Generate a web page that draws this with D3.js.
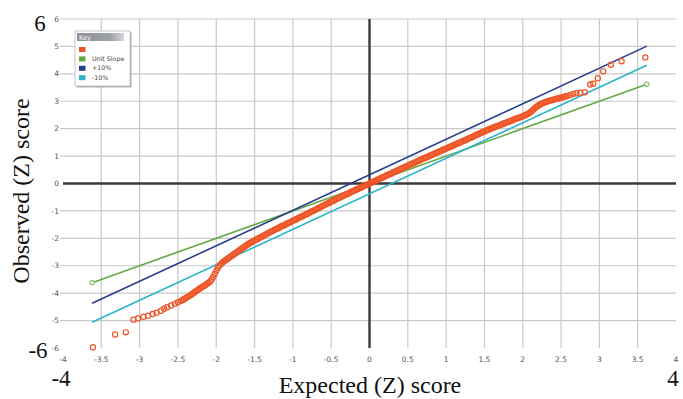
<!DOCTYPE html>
<html>
<head>
<meta charset="utf-8">
<script src="https://cdn.jsdelivr.net/npm/d3@7"></script>
<style>
  html, body { margin: 0; padding: 0; background: #fff; }
  svg { display: block; }
</style>
</head>
<body>
<svg id="chart" width="683" height="399"></svg>
<script>
// Normal Q-Q plot: observed z-scores against expected z-scores

// Sparse lower tail
const lowTailExpected = [-3.61, -3.32, -3.18, -3.08, -3.02, -2.95, -2.89, -2.83, -2.78, -2.72, -2.68, -2.64, -2.59, -2.54, -2.50];
const lowTailObserved = [-5.97, -5.51, -5.43, -4.97, -4.92, -4.86, -4.82, -4.76, -4.71, -4.64, -4.57, -4.51, -4.45, -4.39, -4.33];

// Dense central body
const bodyExpected = [
  -2.46, -2.44, -2.42, -2.40, -2.38, -2.36, -2.34, -2.32, -2.30, -2.28,
  -2.26, -2.24, -2.22, -2.20, -2.18, -2.16, -2.14, -2.12, -2.10, -2.08,
  -2.06, -2.04, -2.02, -2.00, -1.98, -1.96, -1.94, -1.92, -1.90, -1.88,
  -1.86, -1.84, -1.82, -1.80, -1.78, -1.76, -1.74, -1.72, -1.70, -1.68,
  -1.66, -1.64, -1.62, -1.60, -1.58, -1.56, -1.54, -1.52, -1.50, -1.48,
  -1.46, -1.44, -1.42, -1.40, -1.38, -1.36, -1.34, -1.32, -1.30, -1.28,
  -1.26, -1.24, -1.22, -1.20, -1.18, -1.16, -1.14, -1.12, -1.10, -1.08,
  -1.06, -1.04, -1.02, -1.00, -0.98, -0.96, -0.94, -0.92, -0.90, -0.88,
  -0.86, -0.84, -0.82, -0.80, -0.78, -0.76, -0.74, -0.72, -0.70, -0.68,
  -0.66, -0.64, -0.62, -0.60, -0.58, -0.56, -0.54, -0.52, -0.50, -0.48,
  -0.46, -0.44, -0.42, -0.40, -0.38, -0.36, -0.34, -0.32, -0.30, -0.28,
  -0.26, -0.24, -0.22, -0.20, -0.18, -0.16, -0.14, -0.12, -0.10, -0.08,
  -0.06, -0.04, -0.02, 0.00, 0.02, 0.04, 0.06, 0.08, 0.10, 0.12,
  0.14, 0.16, 0.18, 0.20, 0.22, 0.24, 0.26, 0.28, 0.30, 0.32,
  0.34, 0.36, 0.38, 0.40, 0.42, 0.44, 0.46, 0.48, 0.50, 0.52,
  0.54, 0.56, 0.58, 0.60, 0.62, 0.64, 0.66, 0.68, 0.70, 0.72,
  0.74, 0.76, 0.78, 0.80, 0.82, 0.84, 0.86, 0.88, 0.90, 0.92,
  0.94, 0.96, 0.98, 1.00, 1.02, 1.04, 1.06, 1.08, 1.10, 1.12,
  1.14, 1.16, 1.18, 1.20, 1.22, 1.24, 1.26, 1.28, 1.30, 1.32,
  1.34, 1.36, 1.38, 1.40, 1.42, 1.44, 1.46, 1.48, 1.50, 1.52,
  1.54, 1.56, 1.58, 1.60, 1.62, 1.64, 1.66, 1.68, 1.70, 1.72,
  1.74, 1.76, 1.78, 1.80, 1.82, 1.84, 1.86, 1.88, 1.90, 1.92,
  1.94, 1.96, 1.98, 2.00, 2.02, 2.04, 2.06, 2.08, 2.10, 2.12,
  2.14, 2.16, 2.18, 2.20, 2.22, 2.24, 2.26, 2.28, 2.30, 2.32,
  2.34, 2.36, 2.38, 2.40, 2.42, 2.44, 2.46, 2.48, 2.50, 2.52,
  2.54, 2.56, 2.58
];
const bodyObserved = [
  -4.28, -4.25, -4.22, -4.18, -4.15, -4.11, -4.08, -4.04, -4.00, -3.96,
  -3.92, -3.88, -3.84, -3.80, -3.77, -3.74, -3.70, -3.66, -3.62, -3.57,
  -3.50, -3.41, -3.30, -3.18, -3.08, -3.00, -2.94, -2.89, -2.84, -2.80,
  -2.76, -2.72, -2.68, -2.64, -2.60, -2.56, -2.52, -2.48, -2.44, -2.40,
  -2.36, -2.32, -2.28, -2.24, -2.21, -2.17, -2.14, -2.11, -2.08, -2.05,
  -2.02, -1.99, -1.96, -1.93, -1.90, -1.87, -1.84, -1.81, -1.78, -1.75,
  -1.72, -1.69, -1.66, -1.64, -1.61, -1.58, -1.55, -1.53, -1.50, -1.47,
  -1.44, -1.42, -1.39, -1.36, -1.33, -1.31, -1.28, -1.25, -1.22, -1.20,
  -1.17, -1.14, -1.11, -1.09, -1.06, -1.03, -1.00, -0.98, -0.95, -0.92,
  -0.89, -0.86, -0.83, -0.80, -0.77, -0.75, -0.72, -0.69, -0.66, -0.64,
  -0.61, -0.58, -0.55, -0.53, -0.50, -0.47, -0.44, -0.42, -0.39, -0.37,
  -0.34, -0.31, -0.28, -0.26, -0.23, -0.21, -0.18, -0.16, -0.13, -0.10,
  -0.08, -0.05, -0.03, 0.00, 0.03, 0.05, 0.08, 0.10, 0.13, 0.16,
  0.18, 0.21, 0.23, 0.26, 0.29, 0.31, 0.34, 0.36, 0.39, 0.42,
  0.44, 0.47, 0.49, 0.52, 0.55, 0.57, 0.60, 0.62, 0.65, 0.68,
  0.70, 0.73, 0.75, 0.78, 0.80, 0.83, 0.85, 0.88, 0.90, 0.93,
  0.95, 0.98, 1.00, 1.03, 1.05, 1.08, 1.10, 1.13, 1.15, 1.18,
  1.20, 1.23, 1.25, 1.27, 1.30, 1.32, 1.35, 1.37, 1.40, 1.42,
  1.45, 1.47, 1.50, 1.52, 1.55, 1.57, 1.60, 1.62, 1.65, 1.67,
  1.70, 1.72, 1.75, 1.78, 1.80, 1.83, 1.85, 1.88, 1.90, 1.93,
  1.95, 1.97, 2.00, 2.02, 2.04, 2.06, 2.09, 2.11, 2.13, 2.15,
  2.17, 2.20, 2.22, 2.24, 2.26, 2.28, 2.30, 2.33, 2.35, 2.37,
  2.39, 2.41, 2.43, 2.45, 2.48, 2.50, 2.53, 2.56, 2.60, 2.65,
  2.70, 2.75, 2.80, 2.84, 2.87, 2.90, 2.93, 2.95, 2.97, 2.99,
  3.01, 3.03, 3.04, 3.06, 3.07, 3.09, 3.10, 3.12, 3.13, 3.15,
  3.16, 3.18, 3.19
];

// Sparse upper tail
const highTailExpected = [2.62, 2.66, 2.70, 2.75, 2.81, 2.88, 2.92, 2.98, 3.05, 3.15, 3.29, 3.60];
const highTailObserved = [3.23, 3.27, 3.29, 3.31, 3.33, 3.61, 3.64, 3.84, 4.09, 4.33, 4.46, 4.60];

// Reference lines (endpoints)
const refX = [-3.62, 3.62];
const unitSlopeY = [-3.62, 3.62];
const plus10Y = [-4.37, 5.01];
const minus10Y = [-5.06, 4.31];

const legendNames = ["", "Unit Slope", "+10%", "-10%"];
const xTicks = [-4, -3.5, -3, -2.5, -2, -1.5, -1, -0.5, 0, 0.5, 1, 1.5, 2, 2.5, 3, 3.5, 4];
const yTicks = [-6, -5, -4, -3, -2, -1, 0, 1, 2, 3, 4, 5, 6];

const colors = {
  points: "#ef5426",
  unit: "#63a843",
  plus: "#263d8c",
  minus: "#29b3cc"
};

const expected = lowTailExpected.concat(bodyExpected, highTailExpected);
const observed = lowTailObserved.concat(bodyObserved, highTailObserved);

const svg = d3.select("#chart");
const x = d3.scaleLinear().domain([-4, 4]).range([63, 676]);
const y = d3.scaleLinear().domain([-6, 6]).range([348, 19]);

// Grid
const grid = svg.append("g");
grid.selectAll("line.v")
  .data(xTicks.filter(t => t > -4 && t < 4 && t !== 0))
  .join("line")
  .attr("x1", d => x(d)).attr("x2", d => x(d))
  .attr("y1", y(6)).attr("y2", y(-6))
  .attr("stroke", "#c9c9c9").attr("stroke-width", 1.2);
grid.selectAll("line.h")
  .data(yTicks.filter(t => t > -6 && t !== 0))
  .join("line")
  .attr("x1", x(-4) - 3).attr("x2", x(4))
  .attr("y1", d => y(d)).attr("y2", d => y(d))
  .attr("stroke", "#c9c9c9").attr("stroke-width", 1.2);

// Zero axes
svg.append("line")
  .attr("x1", x(-4)).attr("x2", x(4))
  .attr("y1", y(0)).attr("y2", y(0))
  .attr("stroke", "#3a3a3a").attr("stroke-width", 2.4);
svg.append("line")
  .attr("x1", x(0)).attr("x2", x(0))
  .attr("y1", y(6)).attr("y2", y(-6))
  .attr("stroke", "#3a3a3a").attr("stroke-width", 2.4);

// Tick labels
const tickFont = "'DejaVu Sans', sans-serif";
svg.append("g").selectAll("text")
  .data(yTicks)
  .join("text")
  .attr("x", 59)
  .attr("y", d => y(d))
  .attr("dy", "0.35em")
  .attr("text-anchor", "end")
  .attr("font-family", tickFont)
  .attr("font-size", 7.5)
  .attr("fill", "#555")
  .text(d => d);
svg.append("g").selectAll("text")
  .data(xTicks)
  .join("text")
  .attr("x", d => x(d))
  .attr("y", 359)
  .attr("dy", "0.35em")
  .attr("text-anchor", "middle")
  .attr("font-family", tickFont)
  .attr("font-size", 7.5)
  .attr("fill", "#555")
  .text(d => d);

// Reference lines
const lineGen = d3.line().x(d => x(d[0])).y(d => y(d[1]));
const refSeries = [
  { ys: unitSlopeY, color: colors.unit, ends: true },
  { ys: plus10Y, color: colors.plus, ends: false },
  { ys: minus10Y, color: colors.minus, ends: false }
];
refSeries.forEach(s => {
  const pts = refX.map((v, i) => [v, s.ys[i]]);
  svg.append("path")
    .attr("d", lineGen(pts))
    .attr("fill", "none")
    .attr("stroke", s.color)
    .attr("stroke-width", 1.6);
  if (s.ends) {
    svg.append("g").selectAll("circle")
      .data(pts)
      .join("circle")
      .attr("cx", d => x(d[0])).attr("cy", d => y(d[1]))
      .attr("r", 2.3)
      .attr("fill", "#fff")
      .attr("stroke", s.color)
      .attr("stroke-width", 1);
  }
});

// Observed points
svg.append("g").selectAll("circle")
  .data(expected.map((v, i) => [v, observed[i]]))
  .join("circle")
  .attr("cx", d => x(d[0])).attr("cy", d => y(d[1]))
  .attr("r", 2.6)
  .attr("fill", "none")
  .attr("stroke", colors.points)
  .attr("stroke-width", 1.2);

// Legend
const lg = svg.append("g").attr("transform", "translate(75,31)");
const grad = svg.append("defs").append("linearGradient").attr("id", "keyGrad");
grad.append("stop").attr("offset", "0%").attr("stop-color", "#8d9097");
grad.append("stop").attr("offset", "70%").attr("stop-color", "#9ea1a6");
grad.append("stop").attr("offset", "100%").attr("stop-color", "#d6d7d9");
lg.append("rect").attr("x", 1.5).attr("y", 1.5).attr("width", 55).attr("height", 55).attr("fill", "#b0b0b0");
lg.append("rect").attr("width", 55).attr("height", 55).attr("fill", "#fff").attr("stroke", "#b8b8b8").attr("stroke-width", 0.8);
lg.append("rect").attr("x", 2).attr("y", 2).attr("width", 47).attr("height", 8).attr("fill", "url(#keyGrad)");
lg.append("text").attr("x", 4).attr("y", 8.6)
  .attr("font-family", tickFont).attr("font-size", 6.5).attr("fill", "#fff").text("Key");
const legendColors = [colors.points, colors.unit, colors.plus, colors.minus];
legendNames.forEach((name, i) => {
  const yy = 16 + i * 9.4;
  lg.append("rect").attr("x", 4).attr("y", yy).attr("width", 6.5).attr("height", 5).attr("fill", legendColors[i]);
  lg.append("text").attr("x", 17).attr("y", yy + 4.6)
    .attr("font-family", tickFont).attr("font-size", 6.3).attr("fill", "#444").text(name);
});

// Large corner numbers and axis titles
const serif = "'Liberation Serif', 'Times New Roman', serif";
const big = [
  { t: "6", x: 40, y: 31 },
  { t: "-6", x: 38, y: 358 },
  { t: "-4", x: 61, y: 386 },
  { t: "4", x: 673, y: 386 }
];
svg.append("g").selectAll("text")
  .data(big)
  .join("text")
  .attr("x", d => d.x).attr("y", d => d.y)
  .attr("text-anchor", "middle")
  .attr("font-family", serif)
  .attr("font-size", 23)
  .attr("fill", "#111")
  .text(d => d.t);

svg.append("text")
  .attr("x", 370).attr("y", 393)
  .attr("text-anchor", "middle")
  .attr("font-family", serif)
  .attr("font-size", 24)
  .attr("fill", "#111")
  .text("Expected (Z) score");
svg.append("text")
  .attr("transform", "translate(29,191) rotate(-90)")
  .attr("text-anchor", "middle")
  .attr("font-family", serif)
  .attr("font-size", 24)
  .attr("fill", "#111")
  .text("Observed (Z) score");
</script>
</body>
</html>
